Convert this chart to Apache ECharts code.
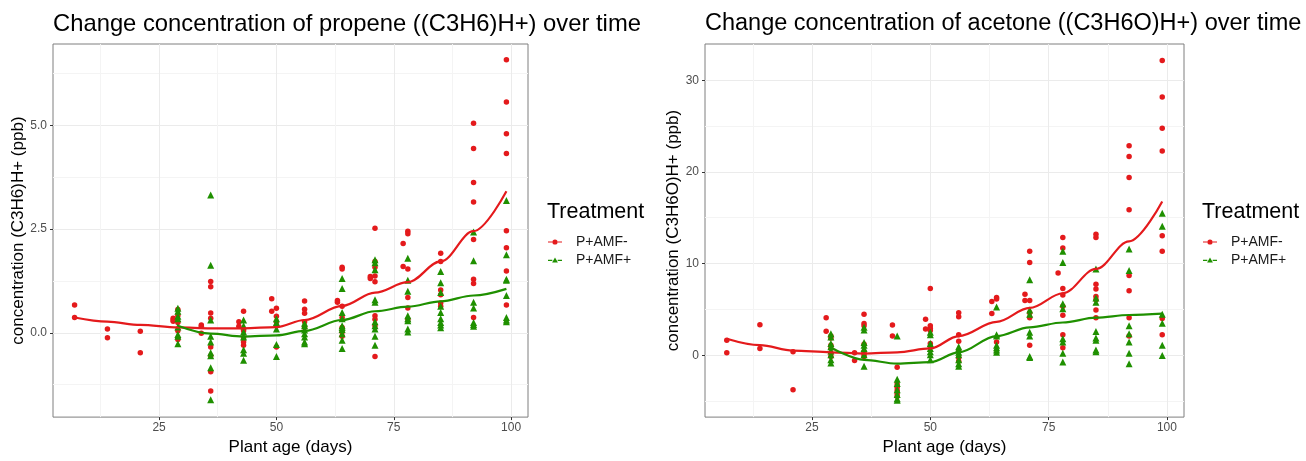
<!DOCTYPE html>
<html>
<head>
<meta charset="utf-8">
<script src="https://cdn.jsdelivr.net/npm/echarts@6/dist/echarts.min.js"></script>
<style>
  html, body { margin: 0; padding: 0; background: #fff; }
  #chart { width: 1306px; height: 461px; }
</style>
</head>
<body>
<div id="chart"></div>
<script>
// 横轴刻度
const xTicks = [25, 50, 75, 100]
const xMinor = [12.5, 37.5, 62.5, 87.5]
const propeneTicks = [0, 2.5, 5]
const propeneMinor = [-1.25, 1.25, 3.75, 6.25]
const acetoneTicks = [0, 10, 20, 30]
const acetoneMinor = [-5, 5, 15, 25]

// [day, [values]]
const propeneMinus = [
    [7, [0.67, 0.37]], [14, [0.09, -0.12]], [21, [0.04, -0.48]],
    [28, [0.35, 0.31, 0.28]], [29, [0.56, 0.42, 0.25, 0.05, -0.16]],
    [34, [0.19, 0.16, -0.01]], [36, [1.24, 1.11, 0.48, 0.35, -0.34, -0.55, -0.94, -1.40]],
    [42, [0.27, 0.16]], [43, [0.52, 0.05, -0.12, -0.22, -0.30]],
    [49, [0.82, 0.52]], [50, [0.59, 0.40, 0.27, 0.17, -0.34]],
    [56, [0.77, 0.57, 0.47, 0.27, 0.13]],
    [63, [0.78, 0.74]], [64, [1.58, 1.54, 0.64, 0.37, 0.13, 0.02, -0.08]],
    [70, [1.36, 1.31]], [71, [2.52, 1.72, 1.58, 1.37, 1.23, 0.41, 0.33, 0.17, -0.57]],
    [77, [2.15, 1.60]], [78, [2.45, 2.39, 1.54, 0.85, 0.60, 0.33]],
    [85, [1.92, 1.72, 1.03, 0.92, 0.72, 0.64]],
    [92, [5.05, 4.44, 3.62, 3.15, 2.25, 1.29, 1.19, 0.37]],
    [99, [6.58, 5.56, 4.80, 4.32, 2.46, 2.05, 1.49, 0.67]]
]
const propenePlus = [
    [29, [0.59, 0.52, 0.40, 0.34, 0.14, -0.04, -0.08, -0.26]],
    [36, [3.32, 1.63, 0.31, -0.08, -0.22, -0.48, -0.55, -0.84, -1.61]],
    [43, [0.31, 0.17, 0.02, -0.10, -0.41, -0.49, -0.66]],
    [50, [0.34, 0.25, 0.09, -0.28, -0.57]],
    [56, [0.23, 0.17, 0.07, -0.02, -0.10, -0.22, -0.26]],
    [64, [1.31, 1.07, 0.49, 0.34, 0.17, 0.13, 0.08, -0.02, -0.18, -0.38]],
    [71, [1.76, 1.69, 1.52, 0.80, 0.74, 0.27, 0.17, 0.09, -0.08, -0.30]],
    [78, [1.80, 1.27, 1.00, 0.41, 0.34, 0.29, 0.09, 0.02]],
    [85, [1.48, 1.21, 0.97, 0.64, 0.49, 0.34, 0.25, 0.19, 0.12]],
    [92, [2.43, 1.74, 0.74, 0.60, 0.25, 0.20, 0.16]],
    [99, [3.19, 1.88, 1.29, 1.27, 0.90, 0.37, 0.31, 0.27]]
]
const propeneMinusFit = [[7, 0.37], [14, 0.27], [21, 0.19], [29, 0.13], [36, 0.11], [43, 0.11], [50, 0.14], [56, 0.31], [64, 0.65], [71, 0.97], [78, 1.22], [85, 1.72], [92, 2.45], [99, 3.41]]
const propenePlusFit = [[29, 0.17], [36, -0.02], [43, -0.09], [50, -0.06], [56, 0.05], [64, 0.31], [71, 0.52], [78, 0.63], [85, 0.76], [92, 0.90], [99, 1.06]]

const acetoneMinus = [
    [7, [1.63, 0.28]], [14, [3.33, 0.74]], [21, [0.39, -3.78]],
    [28, [4.10, 2.62]], [29, [2.09, 1.87, 1.10, 0.74, 0.21, -0.14]],
    [34, [0.28, -0.57]], [36, [4.46, 3.47, 3.22, 1.20, 0.39, 0.14, -0.14]],
    [42, [3.29, 2.09]], [43, [-1.31, -3.15, -3.50, -3.86, -4.21, -4.49]],
    [49, [3.93, 2.87]], [50, [7.29, 3.22, 2.94, 2.69, 1.27, 0.92]],
    [56, [4.63, 4.21, 2.23, 1.52, 0.46, -0.25, -0.67]],
    [63, [5.87, 4.56]], [64, [6.30, 6.12, 1.45]],
    [70, [6.65, 5.98]], [71, [11.35, 10.12, 5.98, 4.63, 4.10, 1.10]],
    [77, [8.98]], [78, [12.84, 11.71, 7.29, 6.58, 5.34, 4.35, 2.23, 0.81]],
    [85, [13.19, 12.84, 7.75, 7.22, 6.40, 6.05, 4.92, 4.10]],
    [92, [22.85, 21.68, 19.38, 15.88, 8.70, 7.04, 4.10, 2.09]],
    [99, [32.15, 28.16, 24.76, 22.29, 13.02, 11.35, 4.00, 2.23]]
]
const acetonePlus = [
    [29, [2.33, 1.98, 1.27, 0.92, 0.46, 0.04, -0.50, -0.85]],
    [36, [3.04, 2.76, 1.38, 1.10, 0.74, 0.04, -1.20]],
    [43, [2.09, -2.62, -3.08, -3.78, -4.28, -4.74, -4.92]],
    [50, [2.51, 2.23, 1.27, 0.74, 0.39, 0.04, -0.50]],
    [56, [0.92, 0.67, 0.32, 0.04, -0.50, -0.92, -1.20]],
    [64, [5.27, 2.23, 2.09, 1.10, 0.81, 0.57, 0.32]],
    [71, [8.24, 4.92, 4.46, 2.51, 2.09, -0.14, -0.25]],
    [78, [11.35, 10.12, 5.62, 5.06, 1.80, 1.45, 0.21, -0.74]],
    [85, [9.41, 6.23, 5.77, 2.58, 1.87, 1.63, 0.57, 0.39]],
    [92, [11.60, 9.23, 3.22, 2.33, 1.45, 0.21, -0.92]],
    [99, [15.49, 14.08, 4.46, 3.50, 1.10, -0.04]]
]
const acetoneMinusFit = [[7, 1.8], [14, 1.1], [21, 0.5], [29, 0.32], [36, 0.18], [43, 0.32], [50, 0.74], [56, 2.09], [64, 3.64], [71, 5.16], [78, 6.76], [85, 9.41], [92, 12.42], [99, 16.77]]
const acetonePlusFit = [[29, 0.85], [36, -0.5], [43, -0.92], [50, -0.76], [56, 0.32], [64, 2.09], [71, 3.04], [78, 3.57], [85, 4.10], [92, 4.39], [99, 4.53]]

const RED = '#e41a1c'
const GREEN = '#1f9000'
const FONT = 'Liberation Sans, Arial, sans-serif'
const circleIcon = 'path://M0,4.4H4.3V5.6H0Z M9.7,4.4H14V5.6H9.7Z M7,2.4A2.6,2.6 0 1,1 6.99,2.4Z'
const triIcon = 'path://M0,4.4H4.3V5.6H0Z M9.7,4.4H14V5.6H9.7Z M7,2.1L9.9,7.3H4.1Z'

const flat = (groups) => {
    const out = []
    groups.forEach(([day, vals]) => vals.forEach(v => out.push([day, v])))
    return out
}

const majorX = (gridIndex, name) => ({
    gridIndex, type: 'value', min: 2.4, max: 103.6,
    axisLine: { show: false, onZero: false },
    axisTick: { customValues: xTicks, length: 3, lineStyle: { color: '#333' } },
    axisLabel: { customValues: xTicks, fontSize: 12, color: '#4d4d4d', margin: 5, fontFamily: FONT },
    splitLine: { show: true, lineStyle: { color: '#ebebeb', width: 1 } },
    name, nameLocation: 'middle', nameGap: 19,
    nameTextStyle: { fontSize: 17, color: '#000', fontFamily: FONT }
})
const minorX = (gridIndex) => ({
    gridIndex, type: 'value', min: 2.4, max: 103.6, position: 'top',
    axisLine: { show: false, onZero: false },
    axisTick: { show: false, customValues: xMinor },
    axisLabel: { show: false },
    splitLine: { show: true, lineStyle: { color: '#f4f4f4', width: 1 } }
})
const majorY = (gridIndex, min, max, ticks, name, gap, fmt) => ({
    gridIndex, type: 'value', min, max,
    axisLine: { show: false, onZero: false },
    axisTick: { customValues: ticks, length: 3, lineStyle: { color: '#333' } },
    axisLabel: { customValues: ticks, fontSize: 12, color: '#4d4d4d', margin: 6, fontFamily: FONT, formatter: fmt },
    splitLine: { show: true, lineStyle: { color: '#ebebeb', width: 1 } },
    name, nameLocation: 'middle', nameGap: gap,
    nameTextStyle: { fontSize: 17, color: '#000', fontFamily: FONT }
})
const minorY = (gridIndex, min, max, ticks) => ({
    gridIndex, type: 'value', min, max, position: 'right',
    axisLine: { show: false, onZero: false },
    axisTick: { show: false, customValues: ticks },
    axisLabel: { show: false },
    splitLine: { show: true, lineStyle: { color: '#f4f4f4', width: 1 } }
})

const scatter = (name, data, idx, color, symbol, size) => ({
    name, type: 'scatter', data, xAxisIndex: idx, yAxisIndex: idx,
    symbol, symbolSize: size, itemStyle: { color, opacity: 1 }, z: 2, silent: true
})
const fitLine = (name, data, idx, color) => ({
    name, type: 'line', data, xAxisIndex: idx, yAxisIndex: idx,
    smooth: 0.35, smoothMonotone: 'x', showSymbol: false,
    lineStyle: { color, width: 2.2 }, itemStyle: { color }, z: 3, silent: true
})
const legendAt = (left) => ({
    left, top: 235, orient: 'vertical', padding: 0, itemGap: 4,
    itemWidth: 14, itemHeight: 6,
    textStyle: { fontSize: 14, color: '#1a1a1a', fontFamily: FONT, padding: [0, 0, 0, 9] },
    data: [{ name: 'P+AMF-', icon: circleIcon }, { name: 'P+AMF+', icon: triIcon }]
})
const titleAt = (text, left, top, fontSize) => ({
    text, left, top, padding: 0,
    textStyle: { fontSize, fontWeight: 'normal', color: '#000', fontFamily: FONT }
})

const myChart = echarts.init(document.getElementById('chart'))
const option = {
    animation: false,
    backgroundColor: '#fff',
    title: [
        titleAt('Change concentration of propene ((C3H6)H+) over time', 53, 12, 23.8),
        titleAt('Change concentration of acetone ((C3H6O)H+) over time', 705, 12, 23.5),
        titleAt('Treatment', 547, 201, 21.5),
        titleAt('Treatment', 1202, 201, 21.5)
    ],
    legend: [legendAt(548), legendAt(1203)],
    grid: [
        { left: 53, top: 44, width: 475, height: 383, show: true, borderColor: '#7f7f7f', borderWidth: 1, backgroundColor: '#fff' },
        { left: 705, top: 44, width: 479, height: 383, show: true, borderColor: '#7f7f7f', borderWidth: 1, backgroundColor: '#fff' }
    ],
    xAxis: [
        majorX(0, 'Plant age (days)'), minorX(0),
        majorX(1, 'Plant age (days)'), minorX(1)
    ],
    yAxis: [
        majorY(0, -2.03, 6.96, propeneTicks, 'concentration (C3H6)H+ (ppb)', 24, v => v.toFixed(1)),
        minorY(0, -2.03, 6.96, propeneMinor),
        majorY(1, -6.75, 33.95, acetoneTicks, 'concentration (C3H6O)H+ (ppb)', 20, v => String(v)),
        minorY(1, -6.75, 33.95, acetoneMinor)
    ],
    series: [
        scatter('P+AMF-', flat(propeneMinus), 0, RED, 'circle', 5.5),
        scatter('P+AMF+', flat(propenePlus), 0, GREEN, 'triangle', 7),
        fitLine('P+AMF-', propeneMinusFit, 0, RED),
        fitLine('P+AMF+', propenePlusFit, 0, GREEN),
        scatter('P+AMF-', flat(acetoneMinus), 2, RED, 'circle', 5.5),
        scatter('P+AMF+', flat(acetonePlus), 2, GREEN, 'triangle', 7),
        fitLine('P+AMF-', acetoneMinusFit, 2, RED),
        fitLine('P+AMF+', acetonePlusFit, 2, GREEN)
    ]
}
myChart.setOption(option)
</script>
</body>
</html>
